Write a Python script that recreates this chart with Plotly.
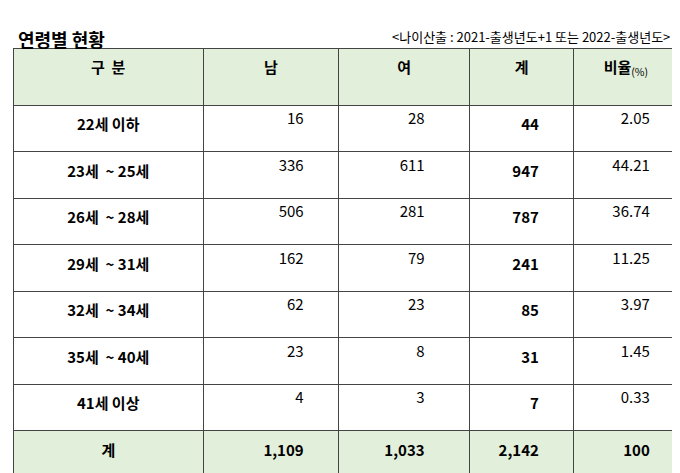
import plotly.graph_objects as go

# data
age_groups = ["22세 이하", "23세  ~ 25세", "26세  ~ 28세", "29세  ~ 31세",
              "32세  ~ 34세", "35세  ~ 40세", "41세 이상"]
male = [16, 336, 506, 162, 62, 23, 4]
female = [28, 611, 281, 79, 23, 8, 3]
total = [44, 947, 787, 241, 85, 31, 7]
ratio = [2.05, 44.21, 36.74, 11.25, 3.97, 1.45, 0.33]
headers = ["구  분", "남", "여", "계", "비율"]

nb = "\u00a0"
col0 = ["<b>%s</b>" % g for g in age_groups] + ["<b>계</b>"]
col1 = ["%d%s" % (v, nb * 8) for v in male] + ["<b>%s</b>%s" % (format(sum(male), ","), nb * 8)]
col2 = ["%d%s" % (v, nb * 11) for v in female] + ["<b>%s</b>%s" % (format(sum(female), ","), nb * 11)]
col3 = ["<b>%d</b>%s" % (v, nb * 8) for v in total] + ["<b>%s</b>%s" % (format(sum(total), ","), nb * 8)]
col4 = ["%.2f%s" % (v, nb * 6) for v in ratio] + ["<b>100</b>" + nb * 6]

green = "#e2efda"
fills = ["white"] * len(age_groups) + [green]

fig = go.Figure(go.Table(
    domain=dict(x=[5 / 680, 670 / 680], y=[3 / 473, 1 - 40 / 473]),
    columnwidth=[192, 136, 132, 105, 105],
    header=dict(
        values=["<b>%s</b>" % h for h in headers[:4]] + ["<b>비율</b><sub>(%)</sub>"],
        fill_color=green, line_color="#444", line_width=1,
        align="center", height=57,
        font=dict(family="Noto Sans CJK KR", size=15, color="black"),
    ),
    cells=dict(
        values=[col0, col1, col2, col3, col4],
        fill_color=[fills] * 5, line_color="#444", line_width=1,
        align=["center", "right", "right", "right", "right"], height=46.5,
        font=dict(family="Noto Sans CJK KR", size=15, color="black"),
    ),
))

fig.add_annotation(x=8 / 680, y=1 - 16 / 473, xref="paper", yref="paper",
                   text="<b>연령별 현황</b>", showarrow=False, xanchor="left",
                   font=dict(family="Noto Sans CJK KR", size=18, color="black"))
fig.add_annotation(x=664 / 680, y=1 - 17 / 473, xref="paper", yref="paper",
                   text="&lt;나이산출 : 2021-출생년도+1 또는 2022-출생년도&gt;",
                   showarrow=False, xanchor="right",
                   font=dict(family="Noto Sans CJK KR", size=13, color="black"))

fig.update_layout(width=680, height=473, margin=dict(l=0, r=0, t=0, b=0),
                  paper_bgcolor="white")
fig.write_html("out.html")
